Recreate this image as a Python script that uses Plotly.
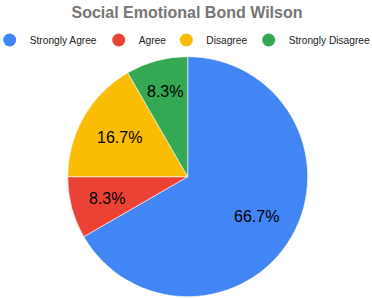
import math
import plotly.graph_objects as go

categories = ["Strongly Agree", "Agree", "Disagree", "Strongly Disagree"]
counts = [8, 1, 2, 1]
colors = ["#4285F4", "#EA4335", "#FBBC04", "#34A853"]
title_text = "Social Emotional Bond Wilson"

W, H = 372, 298
cx, cy, R = 187.7, 176.7, 120.0                 # pie centre / radius in px
label_r = [0.66, 0.70, 0.66, 0.735]             # label radius as fraction of R
legend_sym_x = [11.7, 120.7, 188.3, 270.7]      # legend symbol centres (px)
legend_y = 40

fig = go.Figure()
fig.add_trace(go.Pie(
    labels=categories, values=counts, sort=False, direction="clockwise", rotation=0,
    marker=dict(colors=colors, line=dict(color="white", width=0.6)),
    textinfo="none", showlegend=False, hoverinfo="label+percent",
    domain=dict(x=[(cx - R) / W, (cx + R) / W], y=[(H - cy - R) / H, (H - cy + R) / H]),
))

total = sum(counts)
cum = 0
for v, fr in zip(counts, label_r):
    mid = (cum + v / 2) / total * 2 * math.pi
    cum += v
    px = cx + fr * R * math.sin(mid)
    py = cy - fr * R * math.cos(mid)
    fig.add_annotation(x=px / W, y=1 - py / H, xref="paper", yref="paper",
                       text=f"{v / total * 100:.1f}%", showarrow=False,
                       xanchor="center", yanchor="middle",
                       font=dict(family="Liberation Sans, Arial, sans-serif", size=16, color="#000000"))

legend_layouts = {}
for i, (c, col, sx) in enumerate(zip(categories, colors, legend_sym_x)):
    key = "legend" if i == 0 else f"legend{i + 1}"
    fig.add_trace(go.Scatter(x=[None], y=[None], mode="markers", name=c, legend=key,
                             marker=dict(symbol="circle", size=13, color=col)))
    x0 = sx - 2 - 20
    legend_layouts[key] = dict(orientation="h", x=x0 / W, xanchor="left", y=1 - legend_y / H, yanchor="middle",
                               font=dict(family="Liberation Sans, Arial, sans-serif", size=10.2, color="#222222"),
                               bgcolor="rgba(0,0,0,0)", itemclick=False, itemdoubleclick=False)

fig.update_layout(
    width=W, height=H, margin=dict(l=0, r=0, t=0, b=0, autoexpand=False),
    paper_bgcolor="white", plot_bgcolor="white",
    title=dict(text="<b>" + title_text + "</b>", x=187.0 / W, xanchor="center",
               y=1 - 12.5 / H, yanchor="middle",
               font=dict(family="Liberation Sans, Arial, sans-serif", size=16, color="#757575")),
    xaxis=dict(visible=False), yaxis=dict(visible=False),
    **legend_layouts,
)
fig.write_html("out.html", config={"displayModeBar": False},
               post_script="document.body.style.margin='0';document.body.style.overflow='hidden';")
